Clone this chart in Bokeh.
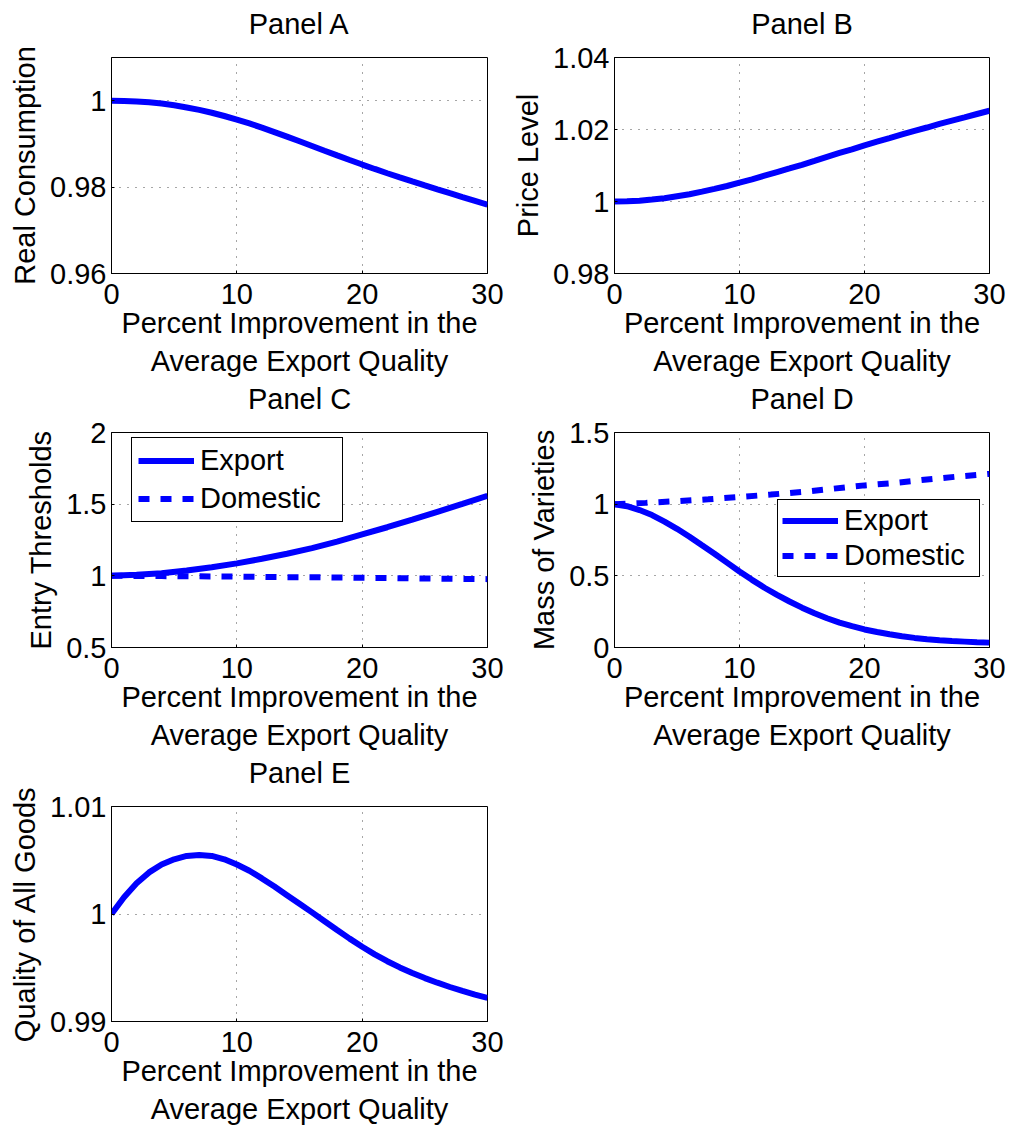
from bokeh.plotting import figure
from bokeh.models import (FixedTicker, CustomJSTickFormatter, Legend, LegendItem,
                          Range1d, Title)
from bokeh.layouts import column, row
from bokeh.embed import file_html
from bokeh.resources import INLINE

# ---------------- data ----------------
x_unit = list(range(0, 31))  # 0, 1, ..., 30
x_even = list(range(0, 31, 2))
x_half = [0, 2.5, 5, 7.5, 10, 12.5, 15, 17.5, 20, 22.5, 25, 27.5, 30]

real_consumption = [1.00000, 0.99995, 0.99983, 0.99963, 0.99933, 0.99893,
                    0.99844, 0.99787, 0.99721, 0.99646, 0.99563, 0.99473,
                    0.99376, 0.99274, 0.99168, 0.99060, 0.98951, 0.98842,
                    0.98734, 0.98627, 0.98522, 0.98420, 0.98321, 0.98225,
                    0.98131, 0.98039, 0.97948, 0.97858, 0.97769, 0.97681,
                    0.97593]
price_level = [1.00000, 1.00005, 1.00023, 1.00055, 1.00092, 1.00147,
               1.00202, 1.00275, 1.00349, 1.00431, 1.00523, 1.00615,
               1.00716, 1.00817, 1.00917, 1.01018, 1.01128, 1.01239,
               1.01349, 1.01450, 1.01560, 1.01661, 1.01761, 1.01862,
               1.01963, 1.02055, 1.02156, 1.02248, 1.02339, 1.02431,
               1.02523]
threshold_export = [1.000, 1.007, 1.018, 1.037, 1.060, 1.087, 1.119, 1.154,
                    1.193, 1.239, 1.289, 1.339, 1.392, 1.447, 1.502, 1.558]
threshold_domestic = [1.000, 0.9995, 0.998, 0.997, 0.996, 0.995, 0.993,
                      0.991, 0.990, 0.988, 0.986, 0.984, 0.982, 0.980,
                      0.978, 0.977]
mass_export = [1.000, 0.986, 0.959, 0.924, 0.878, 0.828, 0.773, 0.713,
               0.654, 0.592, 0.530, 0.472, 0.417, 0.367, 0.321, 0.278,
               0.239, 0.204, 0.174, 0.149, 0.126, 0.108, 0.092, 0.079,
               0.067, 0.058, 0.050, 0.045, 0.041, 0.037, 0.034]
mass_domestic = [1.000, 1.009, 1.021, 1.034, 1.050, 1.067, 1.085, 1.108,
                 1.131, 1.149, 1.172, 1.193, 1.211]
quality_all = [1.00000, 1.00156, 1.00285, 1.00387, 1.00460, 1.00509,
               1.00540, 1.00549, 1.00540, 1.00509, 1.00460, 1.00402,
               1.00331, 1.00255, 1.00175, 1.00095, 1.00015, 0.99933,
               0.99851, 0.99771, 0.99695, 0.99625, 0.99561, 0.99503,
               0.99451, 0.99404, 0.99361, 0.99321, 0.99284, 0.99250,
               0.99219]

x_ticks = [0, 10, 20, 30]
titles = ["Panel A", "Panel B", "Panel C", "Panel D", "Panel E"]
y_labels = ["Real Consumption", "Price Level", "Entry Thresholds",
            "Mass of Varieties", "Quality of All Goods"]
x_label = "Percent Improvement in the\nAverage Export Quality"
y_ranges = [(0.96, 1.01), (0.98, 1.04), (0.5, 2.0), (0.0, 1.5), (0.99, 1.01)]
y_ticks = [[0.96, 0.98, 1.0], [0.98, 1.0, 1.02, 1.04], [0.5, 1.0, 1.5, 2.0],
           [0.0, 0.5, 1.0, 1.5], [0.99, 1.0, 1.01]]
legend_labels = ["Export", "Domestic"]

FONT = "Liberation Sans"
FS = "29px"
BLUE = "#0000ff"
LW = 6
DASH = "11 11"

fmt_code = """
let s = tick.toFixed(4);
s = s.replace(/0+$/, '').replace(/\\.$/, '');
return s;
"""


def make_fig(i, width, height, left, right, top, bottom):
    p = figure(width=width, height=height, output_backend="svg",
               toolbar_location=None, title=None,
               x_range=Range1d(0, 30), y_range=Range1d(*y_ranges[i]),
               min_border_left=left, min_border_right=right,
               min_border_top=top, min_border_bottom=bottom)
    # spacer between frame and title (keeps the title a bit away from the box)
    p.add_layout(Title(text=" ", text_font_size="1px", standoff=15,
                       text_color="white"), "above")
    p.add_layout(Title(text=titles[i], align="center", vertical_align="bottom",
                       text_font=FONT, text_font_size=FS,
                       text_font_style="normal", text_color="black",
                       standoff=0), "above")
    p.outline_line_color = "black"
    p.outline_line_width = 1
    p.outline_line_alpha = 1
    p.background_fill_color = "white"
    p.border_fill_color = "white"
    for ax in (p.xaxis[0], p.yaxis[0]):
        ax.major_label_text_font = FONT
        ax.major_label_text_font_size = FS
        ax.major_label_text_color = "black"
        ax.axis_label_text_font = FONT
        ax.axis_label_text_font_size = FS
        ax.axis_label_text_font_style = "normal"
        ax.axis_label_text_color = "black"
        ax.axis_line_color = "black"
        ax.major_tick_in = 3
        ax.major_tick_out = 0
        ax.major_tick_line_color = "black"
        ax.minor_tick_line_color = None
        ax.formatter = CustomJSTickFormatter(code=fmt_code)
    p.xaxis[0].ticker = FixedTicker(ticks=x_ticks)
    p.yaxis[0].ticker = FixedTicker(ticks=y_ticks[i])
    p.xaxis[0].axis_label = x_label
    p.yaxis[0].axis_label = y_labels[i]
    p.xaxis[0].major_label_standoff = 10
    p.xaxis[0].axis_label_standoff = 0
    p.yaxis[0].major_label_standoff = 5
    p.yaxis[0].axis_label_standoff = 6
    for g in (p.xgrid[0], p.ygrid[0]):
        g.grid_line_color = "black"
        g.grid_line_alpha = 0.7
        g.grid_line_width = 1
        g.grid_line_dash = "1 7"
    return p


# Panel A
pA = make_fig(0, 507, 379, 111, 20, 57, 104)
pA.line(x_unit, real_consumption, line_color=BLUE, line_width=LW)

# Panel B
pB = make_fig(1, 503, 379, 107, 21, 57, 104)
pB.line(x_unit, price_level, line_color=BLUE, line_width=LW)

# Panel C
pC = make_fig(2, 507, 374, 111, 20, 53, 104)
rc1 = pC.line(x_even, threshold_export, line_color=BLUE, line_width=LW)
rc2 = pC.line(x_even, threshold_domestic, line_color=BLUE, line_width=LW,
              line_dash=DASH)

# Panel D
pD = make_fig(3, 503, 374, 107, 21, 53, 104)
rd1 = pD.line(x_unit, mass_export, line_color=BLUE, line_width=LW)
rd2 = pD.line(x_half, mass_domestic, line_color=BLUE, line_width=LW,
              line_dash=DASH)

# Panel E
pE = make_fig(4, 507, 374, 111, 20, 53, 104)
pE.line(x_unit, quality_all, line_color=BLUE, line_width=LW)


def add_legend(p, renderers, loc, row_h, spacing, padding, label_width):
    leg = Legend(items=[LegendItem(label=legend_labels[k], renderers=[renderers[k]])
                        for k in range(2)],
                 location=loc, orientation="vertical")
    leg.label_text_font = FONT
    leg.label_text_font_size = FS
    leg.label_text_color = "black"
    leg.glyph_width = 56
    leg.glyph_height = row_h
    leg.label_height = row_h
    leg.label_width = label_width
    leg.label_standoff = 6
    leg.spacing = spacing
    leg.padding = padding
    leg.margin = 0
    leg.border_line_color = "black"
    leg.border_line_width = 1
    leg.border_line_alpha = 1
    leg.background_fill_color = "white"
    leg.background_fill_alpha = 1
    p.add_layout(leg, "center")


add_legend(pC, [rc1, rc2], (20, 125), 33, 5, 6, 136)
add_legend(pD, [rd1, rd2], (163, 70), 31, 2, 4, 131)

layout = column(row(pA, pB), row(pC, pD), row(pE))

open("out.html", "w").write(file_html(layout, INLINE))
